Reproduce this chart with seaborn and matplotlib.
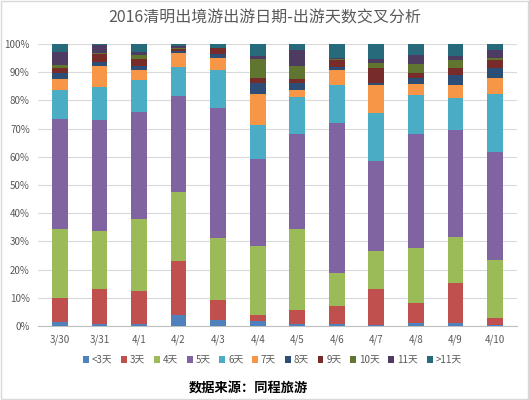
import numpy as np
import pandas as pd
import matplotlib
matplotlib.use("Agg")
import matplotlib.pyplot as plt
import seaborn as sns
from matplotlib.patches import Patch, Rectangle

# dates (x categories)
dates = ['3/30', '3/31', '4/1', '4/2', '4/3', '4/4', '4/5', '4/6', '4/7', '4/8', '4/9', '4/10']

# series names (bottom to top)
series = ['<3天', '3天', '4天', '5天', '6天', '7天', '8天', '9天', '10天', '11天', '>11天']

# share of trips (%) for each series
lt3 = [1.5, 0.8, 0.6, 3.8, 2.0, 1.8, 0.8, 0.7, 0.3, 1.1, 1.1, 0.2]
d3 = [8.3, 12.4, 11.9, 19.4, 7.2, 2.2, 4.9, 6.4, 12.9, 6.9, 14.1, 2.6]
d4 = [24.6, 20.6, 25.4, 24.4, 22.1, 24.3, 28.7, 11.8, 13.3, 19.7, 16.5, 20.7]
d5 = [38.9, 39.1, 38.1, 34.1, 45.9, 30.9, 33.8, 53.2, 32.1, 40.5, 37.7, 38.3]
d6 = [10.3, 11.7, 11.4, 10.2, 13.7, 12.1, 12.9, 13.5, 16.8, 13.7, 11.5, 20.5]
d7 = [3.9, 7.5, 3.4, 4.9, 4.0, 10.9, 2.6, 5.2, 10.2, 4.0, 4.6, 5.6]
d8 = [2.3, 1.6, 1.4, 0.6, 1.7, 4.1, 2.6, 1.1, 0.6, 1.9, 3.6, 3.5]
d9 = [1.8, 2.6, 2.6, 0.8, 2.1, 1.8, 1.3, 2.3, 5.2, 1.9, 2.5, 2.9]
d10 = [1.1, 0.4, 1.2, 0.5, 0.0, 6.7, 4.7, 0.4, 1.9, 3.2, 2.7, 0.7]
d11 = [4.6, 3.0, 1.3, 0.6, 0.0, 0.8, 5.6, 0.6, 1.5, 3.2, 1.4, 2.9]
gt11 = [2.7, 0.3, 2.7, 0.7, 1.3, 4.4, 2.1, 4.8, 5.2, 3.9, 4.3, 2.1]

colors = ['#4F81BD', '#C0504D', '#9BBB59', '#8064A2', '#4BACC6', '#F79646',
          '#2C4D75', '#772C2A', '#5F7530', '#4D3B62', '#276A7C']

values = [lt3, d3, d4, d5, d6, d7, d8, d9, d10, d11, gt11]
df = pd.DataFrame(dict(zip(series, values)), index=dates)
# normalise each date to 100%
df = df.div(df.sum(axis=1), axis=0)
cum = df.cumsum(axis=1)

sns.set_style("white")
plt.rcParams['font.family'] = ['Noto Sans CJK SC', 'DejaVu Sans']

fig = plt.figure(figsize=(5.29, 4.0), dpi=100)
ax = fig.add_axes([0.072, 0.185, 0.905, 0.705])

# draw cumulative totals from the top series down so each overlaps the next
for name, col in reversed(list(zip(series, colors))):
    sns.barplot(x=dates, y=cum[name].values, color=col, width=0.4,
                saturation=1, ax=ax, linewidth=0, zorder=3)

ax.set_ylim(0, 1)
ax.set_xlim(-0.55, 11.55)
ax.set_yticks(np.arange(0, 1.01, 0.1))
ax.set_yticklabels([f'{int(round(v * 100))}%' for v in np.arange(0, 1.01, 0.1)])
ax.yaxis.grid(True, color='#D9D9D9', linewidth=0.8, zorder=0)
ax.set_axisbelow(True)
for s in ['top', 'right', 'left']:
    ax.spines[s].set_visible(False)
ax.spines['bottom'].set_color('#BFBFBF')
ax.tick_params(axis='both', labelsize=7, colors='#595959', length=0, pad=6)
ax.set_xticks(np.arange(-0.5, 12, 1), minor=True)
ax.tick_params(axis='x', which='minor', length=4, color='#BFBFBF')

handles = [Patch(facecolor=c, edgecolor='none') for c in colors]
fig.legend(handles, series, loc='center', bbox_to_anchor=(0.515, 0.1), ncol=11,
           frameon=False, fontsize=7, handlelength=0.6, handleheight=0.6,
           handletextpad=0.3, columnspacing=0.9, labelcolor='#595959')

fig.text(0.5, 0.955, '2016清明出境游出游日期-出游天数交叉分析', ha='center', va='center',
         fontsize=11.5, color='#595959')
fig.text(0.47, 0.032, '数据来源：同程旅游', ha='center', va='center',
         fontsize=9.5, fontweight='bold', color='#000000')

fig.patches.append(Rectangle((0.002, 0.002), 0.996, 0.996, transform=fig.transFigure,
                             fill=False, edgecolor='#D9D9D9', linewidth=1))

fig.savefig('out.png', dpi=100)
